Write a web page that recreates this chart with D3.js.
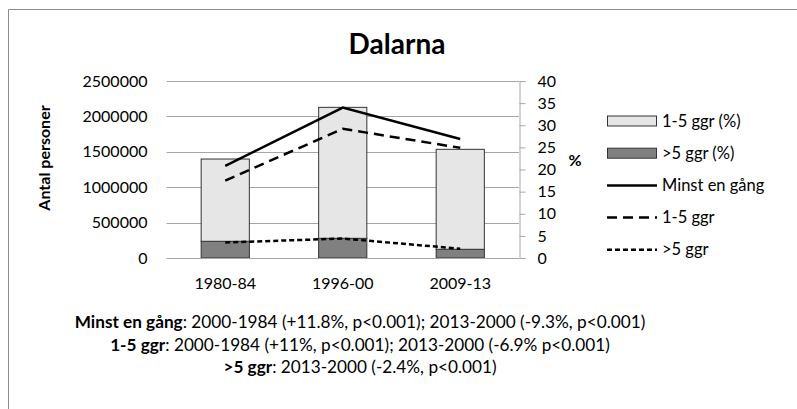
<!DOCTYPE html>
<html>
<head>
<meta charset="utf-8">
<script src="https://cdn.jsdelivr.net/npm/d3@7"></script>
<style>
  body { margin: 0; background: #fff; }
  svg { display: block; font-family: Lato, "Open Sans", sans-serif; }
</style>
</head>
<body>
<div id="chart"></div>
<script>
// periods on the x axis
const periods = ["1980-84", "1996-00", "2009-13"];
// bar segments (left axis, number of persons)
const over5Count = [236000, 278000, 123000];
const oneToFiveCount = [1162000, 1850000, 1412000];
// line series (right axis, %)
const minstEnGang = [20.8, 34.0, 26.9];
const oneToFivePct = [17.5, 29.2, 24.9];
const over5Pct = [3.5, 4.4, 2.1];
// axis ticks
const leftTicks = [0, 500000, 1000000, 1500000, 2000000, 2500000];
const rightTicks = [0, 5, 10, 15, 20, 25, 30, 35, 40];
const notes = [
  ["Minst en gång", ": 2000-1984 (+11.8%, p<0.001); 2013-2000 (-9.3%, p<0.001)"],
  ["1-5 ggr", ": 2000-1984 (+11%, p<0.001); 2013-2000 (-6.9% p<0.001)"],
  [">5 ggr", ": 2013-2000 (-2.4%, p<0.001)"],
];

const W = 797, H = 409;
const plot = { left: 166.5, right: 519, top: 81, bottom: 258 };

const svg = d3.select("#chart").append("svg")
  .attr("width", W).attr("height", H);

// outer frame (only top + left edges visible in the crop)
svg.append("path")
  .attr("d", `M8.5,${H} V9.5 H${W}`)
  .attr("fill", "none").attr("stroke", "#8c8c8c");

const x = d3.scaleBand().domain(periods)
  .range([plot.left, plot.right]).paddingInner(0.59).paddingOuter(0.295);
const yL = d3.scaleLinear().domain([0, 2500000]).range([plot.bottom, plot.top]);
const yR = d3.scaleLinear().domain([0, 40]).range([plot.bottom, plot.top]);

// title
svg.append("text")
  .attr("x", 397).attr("y", 54)
  .attr("text-anchor", "middle")
  .attr("font-size", 28).attr("font-weight", "bold")
  .text("Dalarna");

// gridlines
svg.append("g")
  .selectAll("line")
  .data(leftTicks.filter((d) => d > 0))
  .join("line")
  .attr("x1", plot.left).attr("x2", plot.right)
  .attr("y1", (d) => Math.round(yL(d)) + 0.5)
  .attr("y2", (d) => Math.round(yL(d)) + 0.5)
  .attr("stroke", "#a6a6a6");

// left axis
const gL = svg.append("g")
  .attr("transform", `translate(${plot.left},0)`)
  .call(d3.axisLeft(yL).tickValues(leftTicks).tickSize(0).tickPadding(19)
    .tickFormat(d3.format("d")));
gL.select(".domain").remove();
gL.selectAll("text").attr("font-size", 16).attr("fill", "#000")
  .attr("font-family", "Lato, sans-serif");

// right axis
const gR = svg.append("g")
  .attr("transform", `translate(${plot.right + 0.5},0)`)
  .call(d3.axisRight(yR).tickValues(rightTicks).tickSizeOuter(0)
    .tickSize(6).tickPadding(12));
gR.select(".domain").attr("stroke", "#a6a6a6");
gR.selectAll(".tick line").attr("stroke", "#a6a6a6");
gR.selectAll("text").attr("font-size", 16).attr("fill", "#000")
  .attr("font-family", "Lato, sans-serif");

// axis titles
svg.append("text")
  .attr("transform", `translate(50,158) rotate(-90)`)
  .attr("text-anchor", "middle")
  .attr("font-size", 16).attr("font-weight", "bold")
  .text("Antal personer");
svg.append("text")
  .attr("x", 575).attr("y", 166)
  .attr("text-anchor", "middle")
  .attr("font-size", 16).attr("font-weight", "bold")
  .text("%");

// stacked bars
const table = periods.map((p, i) => ({
  period: p, over5: over5Count[i], oneToFive: oneToFiveCount[i],
}));
const stacked = d3.stack().keys(["over5", "oneToFive"])(table);
const barFill = { over5: "#808080", oneToFive: "#e6e6e6" };

svg.append("g")
  .selectAll("g")
  .data(stacked)
  .join("g")
  .attr("fill", (s) => barFill[s.key])
  .selectAll("rect")
  .data((s) => s)
  .join("rect")
  .attr("x", (d) => x(d.data.period))
  .attr("width", x.bandwidth())
  .attr("y", (d) => yL(d[1]))
  .attr("height", (d) => yL(d[0]) - yL(d[1]))
  .attr("stroke", "#333")
  .attr("stroke-width", 1);

// bottom axis line
svg.append("line")
  .attr("x1", plot.left).attr("x2", plot.right)
  .attr("y1", plot.bottom + 0.5).attr("y2", plot.bottom + 0.5)
  .attr("stroke", "#a6a6a6");

svg.append("g")
  .selectAll("text")
  .data(periods)
  .join("text")
  .attr("x", (d) => x(d) + x.bandwidth() / 2)
  .attr("y", 289)
  .attr("text-anchor", "middle")
  .attr("font-size", 16)
  .text((d) => d);

// lines
const lineSeries = [
  { name: "Minst en gång", values: minstEnGang, dash: null },
  { name: "1-5 ggr", values: oneToFivePct, dash: "10,6" },
  { name: ">5 ggr", values: over5Pct, dash: "5,3" },
];
const line = d3.line()
  .x((d, i) => x(periods[i]) + x.bandwidth() / 2)
  .y((d) => yR(d));

svg.append("g")
  .selectAll("path")
  .data(lineSeries)
  .join("path")
  .attr("d", (s) => line(s.values))
  .attr("fill", "none")
  .attr("stroke", "#000")
  .attr("stroke-width", 2.5)
  .attr("stroke-dasharray", (s) => s.dash);

// legend
const legend = svg.append("g").attr("transform", "translate(607,0)");
const legendItems = [
  { label: "1-5 ggr (%)", type: "box", fill: barFill.oneToFive },
  { label: ">5 ggr (%)", type: "box", fill: barFill.over5 },
  ...lineSeries.map((s) => ({ label: s.name, type: "line", dash: s.dash })),
];
const rowY = (i) => 121 + i * 32.2;
legendItems.forEach((it, i) => {
  const cy = rowY(i);
  if (it.type === "box") {
    legend.append("rect")
      .attr("x", 0.5).attr("y", cy - 5).attr("width", 49).attr("height", 10)
      .attr("fill", it.fill).attr("stroke", "#333");
  } else {
    legend.append("line")
      .attr("x1", 0).attr("x2", 50).attr("y1", cy).attr("y2", cy)
      .attr("stroke", "#000").attr("stroke-width", 2.5)
      .attr("stroke-dasharray", it.dash);
  }
  legend.append("text")
    .attr("x", 55).attr("y", cy + 5.5)
    .attr("font-size", 16.5)
    .text(it.label);
});

// footnotes
const foot = svg.append("g");
notes.forEach((n, i) => {
  const t = foot.append("text")
    .attr("x", 360).attr("y", 328 + i * 22.5)
    .attr("text-anchor", "middle")
    .attr("font-size", 17.2);
  t.append("tspan").attr("font-weight", "bold").text(n[0]);
  t.append("tspan").text(n[1]);
});
</script>
</body>
</html>
